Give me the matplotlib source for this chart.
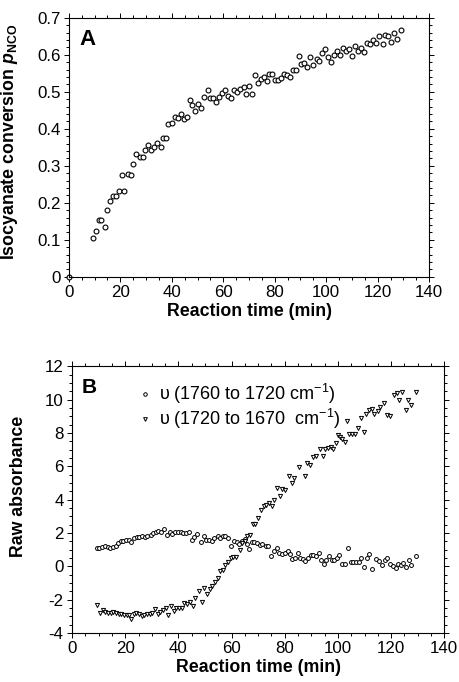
import matplotlib
matplotlib.use("Agg")
import matplotlib.pyplot as plt
from matplotlib.ticker import MultipleLocator, FixedLocator, FixedFormatter

plt.rcParams['font.family'] = ['Liberation Sans', 'DejaVu Sans']
plt.rcParams['axes.unicode_minus'] = False
plt.rcParams['mathtext.fontset'] = 'custom'
plt.rcParams['mathtext.rm'] = 'Liberation Sans'
plt.rcParams['mathtext.it'] = 'Liberation Sans:italic'
plt.rcParams['mathtext.bf'] = 'Liberation Sans:bold'
plt.rcParams['mathtext.bfit'] = 'Liberation Sans:bold:italic'

# ---------------- data: panel A ----------------
time_a = [0, 9.4, 10.5, 11.6, 12.6, 14.1, 15.0, 16.0, 17.1, 18.2, 19.4, 20.5, 21.6, 22.8, 24.0,
          25.1, 26.2, 27.5, 28.7, 29.7, 30.9, 31.8, 33.1, 34.4, 35.7, 36.6, 37.7, 38.5, 40.1,
          41.1, 42.4, 43.4, 44.6, 45.8, 46.9, 48.0, 49.1, 50.3, 51.5, 52.7, 53.9, 54.9, 56.1,
          57.1, 58.4, 59.6, 60.8, 61.9, 63.1, 64.2, 65.4, 66.6, 67.9, 68.9, 70.1, 71.2, 72.2,
          73.4, 74.6, 75.7, 76.8, 77.8, 79.0, 80.1, 81.3, 82.5, 83.5, 84.6, 86.0, 87.0, 88.1,
          89.3, 90.3, 91.5, 92.7, 93.8, 95.0, 96.3, 97.3, 98.4, 99.5, 100.7, 101.9, 103.1,
          104.2, 105.5, 106.6, 107.7, 108.8, 110.1, 111.3, 112.4, 113.6, 114.8, 115.9, 117.1,
          118.3, 119.4, 120.6, 121.9, 122.8, 124.0, 125.2, 126.4, 127.6, 128.9]
conversion = [0, 0.106, 0.124, 0.153, 0.153, 0.136, 0.181, 0.204, 0.219, 0.219, 0.232, 0.274,
              0.233, 0.278, 0.275, 0.305, 0.331, 0.323, 0.323, 0.344, 0.355, 0.344, 0.351, 0.361,
              0.351, 0.375, 0.376, 0.413, 0.416, 0.432, 0.429, 0.439, 0.426, 0.433, 0.477, 0.464,
              0.448, 0.467, 0.457, 0.485, 0.505, 0.483, 0.483, 0.472, 0.485, 0.496, 0.506, 0.488,
              0.484, 0.504, 0.499, 0.507, 0.512, 0.495, 0.515, 0.495, 0.546, 0.523, 0.535, 0.540,
              0.529, 0.547, 0.549, 0.531, 0.532, 0.538, 0.548, 0.544, 0.539, 0.558, 0.559, 0.597,
              0.574, 0.578, 0.566, 0.594, 0.571, 0.589, 0.583, 0.604, 0.615, 0.595, 0.581, 0.600,
              0.611, 0.599, 0.618, 0.609, 0.616, 0.596, 0.624, 0.611, 0.617, 0.607, 0.631, 0.628,
              0.641, 0.632, 0.650, 0.628, 0.654, 0.652, 0.635, 0.659, 0.643, 0.666]

# ---------------- data: panel B ----------------
time_b1 = [9.2, 10.2, 11.2, 12.4, 13.4, 14.4, 15.4, 16.4, 17.4, 18.4, 19.3, 20.3, 21.3, 22.3,
           23.3, 24.3, 25.3, 26.3, 27.3, 28.3, 29.5, 30.5, 31.5, 32.5, 33.4, 34.6, 35.7, 36.7,
           37.7, 38.8, 39.8, 40.8, 41.8, 42.8, 43.9, 45.1, 45.9, 47.1, 48.6, 49.6, 50.5, 51.5,
           52.5, 53.5, 54.7, 55.7, 56.7, 57.7, 58.8, 59.9, 60.9, 61.9, 62.9, 63.9, 64.9, 65.8,
           66.7, 67.7, 68.6, 69.6, 70.6, 71.6, 72.8, 73.8, 74.9, 75.9, 76.9, 77.9, 78.9, 80.0,
           81.1, 82.1, 82.9, 83.9, 84.9, 85.9, 86.7, 87.7, 88.7, 89.7, 90.7, 91.7, 92.7, 93.7,
           94.6, 95.6, 96.7, 97.7, 98.7, 99.7, 100.5, 101.5, 102.5, 103.7, 104.8, 105.8, 106.8,
           107.8, 108.7, 109.8, 110.8, 111.8, 112.8, 114.3, 115.3, 116.4, 117.6, 118.6, 119.6,
           120.7, 121.7, 122.7, 123.7, 124.6, 125.7, 126.6, 127.6, 129.2]
absorb_1760 = [1.10, 1.12, 1.18, 1.22, 1.18, 1.12, 1.14, 1.24, 1.40, 1.50, 1.52, 1.60, 1.56, 1.48,
               1.72, 1.76, 1.76, 1.80, 1.76, 1.84, 1.90, 2.00, 2.08, 2.12, 2.06, 2.22, 1.86, 2.04,
               1.96, 2.08, 2.04, 2.04, 2.00, 2.02, 2.06, 1.56, 1.76, 1.92, 1.46, 1.82, 1.60, 1.60,
               1.52, 1.68, 1.80, 1.72, 1.80, 1.84, 1.68, 1.24, 1.52, 1.44, 1.32, 1.52, 1.66, 1.32,
               1.02, 1.46, 1.46, 1.38, 1.30, 1.36, 1.22, 1.24, 0.60, 0.92, 1.12, 0.80, 0.76, 0.80,
               0.92, 0.74, 0.46, 0.48, 0.78, 0.50, 0.46, 0.34, 0.52, 0.66, 0.68, 0.64, 0.80, 0.38,
               0.12, 0.36, 0.60, 0.40, 0.36, 0.50, 0.66, 0.14, 0.14, 1.08, 0.24, 0.24, 0.24, 0.24,
               0.52, -0.04, 0.48, 0.72, -0.18, 0.44, 0.32, 0.08, 0.36, 0.48, 0.16, 0.00, -0.08,
               0.16, 0.10, 0.22, -0.06, 0.40, 0.06, 0.62]

time_b2 = [9.5, 10.5, 11.5, 12.5, 13.5, 14.5, 15.5, 16.5, 17.5, 18.5, 19.5, 20.5, 21.3, 22.2,
           23.2, 24.2, 25.2, 26.2, 27.2, 28.2, 29.2, 30.2, 31.2, 32.2, 33.2, 34.2, 35.2, 36.2,
           37.2, 38.2, 39.2, 40.2, 41.2, 42.2, 43.2, 44.2, 45.4, 46.4, 47.7, 48.7, 49.7, 50.7,
           51.7, 52.7, 53.7, 54.7, 55.7, 56.7, 57.7, 58.7, 59.7, 60.7, 61.7, 63.0, 63.9, 64.9,
           65.9, 66.9, 67.9, 68.9, 70.1, 71.1, 72.1, 73.1, 74.1, 75.1, 76.1, 77.1, 78.1, 79.1,
           80.1, 81.5, 82.6, 83.6, 85.4, 87.6, 88.4, 89.4, 90.6, 91.9, 93.4, 94.5, 95.1, 96.4,
           97.4, 98.1, 99.1, 100.1, 100.7, 101.6, 102.5, 103.5, 104.1, 105.1, 106.3, 107.5,
           108.5, 109.7, 110.6, 111.8, 112.8, 113.4, 115.1, 115.9, 117.2, 118.4, 119.4, 121.1,
           122.3, 123.0, 124.0, 125.5, 126.5, 127.5, 129.3]
absorb_1720 = [-2.30, -2.80, -2.64, -2.72, -2.78, -2.80, -2.76, -2.82, -2.88, -2.88, -2.92, -2.94,
               -2.90, -3.16, -2.88, -2.80, -2.84, -3.00, -2.92, -2.88, -2.88, -2.80, -2.54, -2.88,
               -2.72, -2.64, -2.48, -2.92, -2.40, -2.68, -2.52, -2.48, -2.48, -2.20, -2.28, -2.16,
               -2.40, -1.92, -1.48, -2.16, -1.32, -1.68, -1.36, -1.20, -0.96, -0.68, -0.30, -0.20,
               0.06, 0.26, 0.48, 0.56, 0.56, 0.96, 1.40, 1.50, 1.82, 1.88, 2.56, 2.52, 2.88, 3.40,
               3.62, 3.68, 3.80, 3.60, 3.96, 4.71, 4.23, 4.63, 4.59, 5.39, 5.01, 5.29, 5.93, 5.41,
               6.18, 6.05, 6.55, 6.59, 7.03, 6.63, 7.05, 7.09, 7.15, 7.03, 7.39, 7.89, 7.75, 7.63,
               7.47, 8.71, 7.91, 7.91, 7.95, 8.29, 8.89, 8.05, 9.15, 9.39, 9.45, 9.15, 9.29, 9.55,
               9.79, 9.05, 8.99, 10.25, 10.39, 9.95, 10.45, 9.39, 9.95, 9.65, 10.45]

x_ticks = [0, 20, 40, 60, 80, 100, 120, 140]
ya_ticks = [0, 0.1, 0.2, 0.3, 0.4, 0.5, 0.6, 0.7]
ya_labels = ['0', '0.1', '0.2', '0.3', '0.4', '0.5', '0.6', '0.7']
yb_ticks = [-4, -2, 0, 2, 4, 6, 8, 10, 12]
label_1760 = "\u03c5 (1760 to 1720 cm$^{-1}$)"
label_1720 = "\u03c5 (1720 to 1670  cm$^{-1}$)"

# ---------------- figure ----------------
fig = plt.figure(figsize=(4.59, 6.82), dpi=100)
axA = fig.add_axes([0.150, 0.594, 0.785, 0.380])
axB = fig.add_axes([0.157, 0.072, 0.811, 0.391])

TICK_FS = 12.2
LABEL_FS = 12.8


def style_axis(ax):
    for s in ax.spines.values():
        s.set_linewidth(0.8)
    ax.tick_params(which='both', direction='out', top=True, right=True,
                   labeltop=False, labelright=False, width=0.7, labelsize=TICK_FS, pad=2.5)
    ax.tick_params(which='major', length=3.5)
    ax.tick_params(which='minor', length=2)


# Panel A
axA.plot(time_a, conversion, linestyle='none', marker='o', markersize=3.5,
         markerfacecolor='white', markeredgecolor='black', markeredgewidth=0.8, clip_on=False)
axA.set_xlim(0, 140)
axA.set_ylim(0, 0.7)
axA.xaxis.set_major_locator(FixedLocator(x_ticks))
axA.xaxis.set_minor_locator(MultipleLocator(5))
axA.yaxis.set_major_locator(FixedLocator(ya_ticks))
axA.yaxis.set_major_formatter(FixedFormatter(ya_labels))
axA.yaxis.set_minor_locator(MultipleLocator(0.02))
style_axis(axA)
axA.set_xlabel('Reaction time (min)', fontsize=LABEL_FS, fontweight='bold', labelpad=2)
axA.set_ylabel(r'Isocyanate conversion $\mathbfit{p}_{\mathbf{NCO}}$', fontsize=LABEL_FS,
               fontweight='bold')
axA.yaxis.set_label_coords(-0.136, 0.52)
axA.text(0.03, 0.955, 'A', transform=axA.transAxes, fontsize=16, fontweight='bold',
         va='top', ha='left')

# Panel B
axB.plot(time_b1, absorb_1760, linestyle='none', marker='o', markersize=2.8,
         markerfacecolor='white', markeredgecolor='black', markeredgewidth=0.7, label=label_1760)
axB.plot(time_b2, absorb_1720, linestyle='none', marker='v', markersize=3.0,
         markerfacecolor='white', markeredgecolor='black', markeredgewidth=0.7, label=label_1720)
axB.set_xlim(0, 140)
axB.set_ylim(-4, 12)
axB.xaxis.set_major_locator(FixedLocator(x_ticks))
axB.xaxis.set_minor_locator(MultipleLocator(5))
axB.yaxis.set_major_locator(FixedLocator(yb_ticks))
axB.yaxis.set_minor_locator(MultipleLocator(0.5))
style_axis(axB)
axB.set_xlabel('Reaction time (min)', fontsize=LABEL_FS, fontweight='bold', labelpad=2)
axB.set_ylabel('Raw absorbance', fontsize=LABEL_FS, fontweight='bold')
axB.yaxis.set_label_coords(-0.12, 0.55)
axB.text(0.027, 0.955, 'B', transform=axB.transAxes, fontsize=15, fontweight='bold',
         va='top', ha='left')
axB.legend(loc='upper left', bbox_to_anchor=(0.176, 0.94), frameon=False, fontsize=13,
           handlelength=0.8, handletextpad=0.4, borderpad=0, borderaxespad=0,
           labelspacing=0.05, markerscale=0.9)

fig.savefig('out.png', dpi=100)
